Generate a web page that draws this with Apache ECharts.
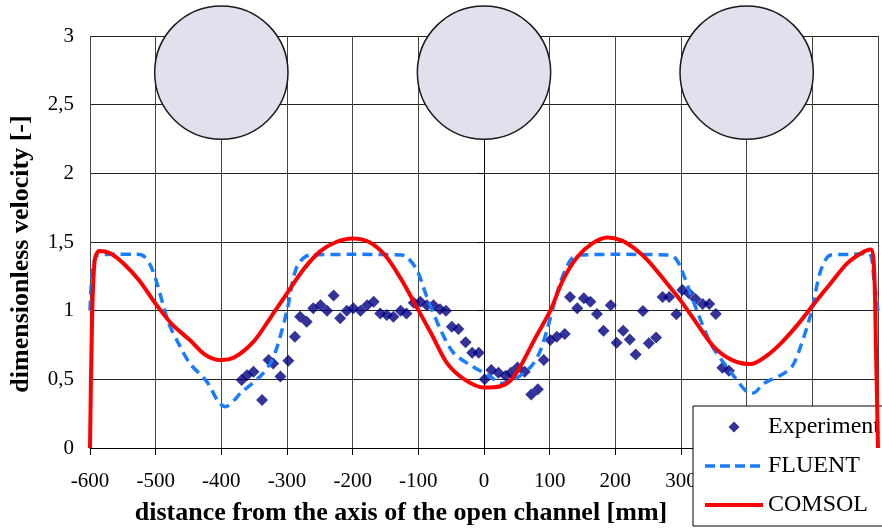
<!DOCTYPE html>
<html>
<head>
<meta charset="utf-8">
<script src="https://cdn.jsdelivr.net/npm/echarts@6/dist/echarts.min.js"></script>
<style>
  html, body { margin: 0; padding: 0; background: #fff; }
  #chart { width: 882px; height: 531px; }
</style>
</head>
<body>
<div id="chart"></div>
<script>
// measured points, [distance mm, dimensionless velocity]
const experiment = [
  [-369, 0.495], [-361, 0.53], [-351, 0.555], [-338, 0.35], [-328, 0.64], [-321, 0.616],
  [-310, 0.52], [-298, 0.635], [-288, 0.81], [-280, 0.955], [-270, 0.92], [-260, 1.017],
  [-249, 1.04], [-239, 1.0], [-229, 1.11], [-219, 0.944], [-209, 1.0], [-199, 1.017],
  [-188, 1.0], [-178, 1.04], [-168, 1.065], [-158, 0.98], [-148, 0.968], [-138, 0.955],
  [-127, 1.0], [-118, 0.98], [-107, 1.058], [-97, 1.065], [-87, 1.04], [-77, 1.04],
  [-67, 1.01], [-58, 1.0], [-49, 0.883], [-39, 0.866], [-28, 0.77], [-18, 0.694],
  [-8, 0.694], [1, 0.5], [11, 0.568], [22, 0.548], [33, 0.526], [41, 0.548],
  [51, 0.587], [62, 0.555], [72, 0.39], [82, 0.427], [91, 0.64], [101, 0.786],
  [111, 0.81], [123, 0.83], [131, 1.1], [142, 1.017], [152, 1.09], [162, 1.065],
  [172, 0.975], [182, 0.854], [193, 1.04], [202, 0.766], [212, 0.854], [222, 0.79],
  [231, 0.68], [242, 0.997], [251, 0.762], [262, 0.805], [272, 1.1], [282, 1.1],
  [293, 0.973], [302, 1.15], [312, 1.126], [322, 1.085], [333, 1.048], [343, 1.048],
  [353, 0.975], [363, 0.584], [373, 0.563]
]

const fluent = [
  [-600, 1.0], [-596, 1.3], [-588, 1.405], [-560, 1.41], [-530, 1.41], [-519, 1.4],
  [-508, 1.33], [-498, 1.2], [-480, 0.907], [-465, 0.76], [-448, 0.616], [-422, 0.483],
  [-405, 0.34], [-394, 0.3], [-380, 0.35], [-371, 0.398], [-341, 0.52], [-325, 0.62],
  [-315, 0.737], [-300, 1.0], [-285, 1.32], [-265, 1.405], [-200, 1.41], [-125, 1.405],
  [-117, 1.39], [-102, 1.295], [-87, 1.1], [-66, 0.86], [-46, 0.69], [-16, 0.59],
  [10, 0.52], [25, 0.47], [45, 0.495], [71, 0.59], [85, 0.7], [96, 0.86],
  [116, 1.2], [132, 1.37], [145, 1.405], [200, 1.41], [280, 1.405], [290, 1.39],
  [299, 1.32], [320, 1.053], [345, 0.762], [365, 0.62], [381, 0.52], [400, 0.41],
  [410, 0.4], [426, 0.47], [457, 0.544], [470, 0.6], [482, 0.737], [498, 0.98],
  [513, 1.295], [528, 1.405], [560, 1.41], [586, 1.417], [594, 1.22], [600, 1.0]
]

const comsol = [
  [-600, 0], [-597, 0.9], [-593, 1.36], [-586, 1.435], [-570, 1.42], [-549, 1.344],
  [-525, 1.22], [-500, 1.05], [-475, 0.9], [-448, 0.786], [-425, 0.68], [-402, 0.64],
  [-380, 0.66], [-351, 0.774], [-325, 0.95], [-300, 1.126], [-275, 1.3], [-250, 1.43],
  [-225, 1.5], [-200, 1.526], [-175, 1.5], [-150, 1.4], [-125, 1.22], [-107, 1.065],
  [-80, 0.83], [-56, 0.616], [-30, 0.5], [0, 0.44], [25, 0.45], [40, 0.49],
  [55, 0.59], [78, 0.8], [101, 1.0], [120, 1.22], [142, 1.39], [165, 1.49],
  [188, 1.533], [210, 1.51], [230, 1.45], [249, 1.368], [275, 1.22], [299, 1.077],
  [325, 0.9], [350, 0.737], [378, 0.64], [406, 0.611], [430, 0.67], [452, 0.762],
  [478, 0.9], [503, 1.053], [528, 1.2], [553, 1.344], [575, 1.42], [589, 1.445],
  [594, 1.3], [597, 0.7], [600, 0]
]

// cylinders drawn above the profile, centre [mm, velocity]
const cylinders = [[-400, 2.734], [0, 2.734], [400, 2.734]]
const cylinderRadius = 101.5 // in mm along x

const serif = 'Liberation Serif'
const blue = '#1a7cff'
const red = '#ff0000'

const chart = echarts.init(document.getElementById('chart'))
chart.setOption({
  animation: false,
  backgroundColor: '#fff',
  grid: { left: 90, right: 4, top: 36, bottom: 83, containLabel: false, outerBoundsMode: 'none' },
  legend: {
    orient: 'vertical',
    left: 693,
    top: 406,
    padding: [9, 60, 9, 10],
    itemGap: 15,
    itemWidth: 58,
    itemHeight: 14,
    backgroundColor: '#fff',
    borderColor: '#000',
    borderWidth: 1,
    borderRadius: 0,
    textStyle: { fontFamily: serif, fontSize: 24, color: '#000' },
    data: [
      { name: 'Experiment', icon: 'path://M0,0M14,14M7,1.5L12.5,7L7,12.5L1.5,7Z' },
      { name: 'FLUENT', itemStyle: { opacity: 0 }, lineStyle: { color: blue, width: 3.5, type: [10, 5] } },
      { name: 'COMSOL', itemStyle: { opacity: 0 }, lineStyle: { color: red, width: 4 } }
    ]
  },
  xAxis: {
    type: 'value',
    min: -600,
    max: 600,
    interval: 100,
    name: 'distance from the axis of the open channel [mm]',
    nameLocation: 'middle',
    nameGap: 52,
    nameTextStyle: { fontFamily: serif, fontSize: 26, fontWeight: 'bold', color: '#000', padding: [0, 166, 0, 0] },
    axisLine: { show: true, onZero: false, lineStyle: { color: '#000', width: 1 } },
    axisTick: { show: true, length: 7, lineStyle: { color: '#000' } },
    axisLabel: { fontFamily: serif, fontSize: 21, color: '#000', margin: 23 },
    splitLine: { show: true, lineStyle: { color: '#444', width: 1 } }
  },
  yAxis: {
    type: 'value',
    min: 0,
    max: 3,
    interval: 0.5,
    name: 'dimensionless velocity [-]',
    nameLocation: 'middle',
    nameGap: 56,
    nameTextStyle: { fontFamily: serif, fontSize: 26, fontWeight: 'bold', color: '#000', padding: [0, 24, 0, 0] },
    axisLine: { show: true, lineStyle: { color: '#000', width: 1 } },
    axisTick: { show: true, length: 7, lineStyle: { color: '#000' } },
    axisLabel: {
      fontFamily: serif, fontSize: 21, color: '#000', margin: 16,
      formatter: v => String(v).replace('.', ',')
    },
    splitLine: { show: true, lineStyle: { color: '#222', width: 1 } }
  },
  series: [
    {
      name: 'cylinders',
      type: 'custom',
      clip: false,
      data: cylinders,
      renderItem: (params, api) => {
        const c = api.coord([api.value(0), api.value(1)])
        const r = api.size([cylinderRadius, 0])[0]
        return {
          type: 'circle',
          shape: { cx: c[0], cy: c[1], r: r },
          style: { fill: '#e4dfec', stroke: '#1a1a1a', lineWidth: 1.5 }
        }
      },
      silent: true,
      z: 1
    },
    {
      name: 'Experiment',
      type: 'scatter',
      data: experiment,
      symbol: 'diamond',
      symbolSize: 12,
      itemStyle: { color: '#000080' },
      z: 3
    },
    {
      name: 'FLUENT',
      type: 'line',
      data: fluent,
      smooth: 0.3,
      symbol: 'none',
      lineStyle: { color: blue, width: 3.5, type: [10, 6] },
      itemStyle: { color: blue },
      z: 4
    },
    {
      name: 'COMSOL',
      type: 'line',
      data: comsol,
      smooth: 0.3,
      symbol: 'none',
      lineStyle: { color: red, width: 4 },
      itemStyle: { color: red },
      z: 5
    }
  ]
})
</script>
</body>
</html>
